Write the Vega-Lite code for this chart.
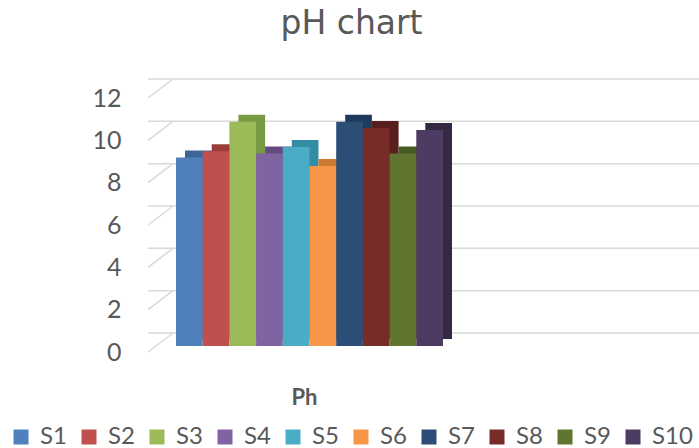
{
  "$schema": "https://vega.github.io/schema/vega-lite/v6.json",
  "autosize": {"type": "none"},
  "width": 551,
  "height": 254,
  "padding": {"left": 148, "top": 92, "right": 0, "bottom": 102},
  "background": "white",
  "title": {
    "text": "pH chart",
    "font": "DejaVu Sans",
    "fontSize": 33,
    "fontWeight": "normal",
    "color": "#595959",
    "anchor": "middle",
    "frame": "group",
    "dx": -72,
    "offset": 37
  },
  "config": {
    "view": {"stroke": null},
    "font": "Lato"
  },
  "datasets": {
    "ph": [
      {"sample": "S1", "pH": 8.9},
      {"sample": "S2", "pH": 9.2},
      {"sample": "S3", "pH": 10.6},
      {"sample": "S4", "pH": 9.1},
      {"sample": "S5", "pH": 9.4},
      {"sample": "S6", "pH": 8.5},
      {"sample": "S7", "pH": 10.6},
      {"sample": "S8", "pH": 10.3},
      {"sample": "S9", "pH": 9.1},
      {"sample": "S10", "pH": 10.2}
    ],
    "ticks": [
      {"level": 0}, {"level": 2}, {"level": 4}, {"level": 6},
      {"level": 8}, {"level": 10}, {"level": 12}
    ]
  },
  "layer": [
    {
      "data": {"name": "ticks"},
      "mark": {"type": "rule", "color": "#d9d9d9", "strokeWidth": 1.5, "xOffset": 25, "yOffset": -13, "y2Offset": -13},
      "encoding": {
        "y": {"field": "level", "type": "quantitative", "scale": {"domain": [0, 12]},
              "axis": {"title": null, "values": [0, 2, 4, 6, 8, 10, 12], "grid": false, "domain": false, "ticks": false,
                       "labelFont": "Lato", "labelFontSize": 25, "labelColor": "#595959", "labelPadding": 27, "labelOffset": 6}}
      }
    },
    {
      "data": {"name": "ticks"},
      "mark": {"type": "rule", "color": "#d9d9d9", "strokeWidth": 1.5, "yOffset": 6, "y2Offset": -13},
      "encoding": {
        "x": {"value": 0},
        "x2": {"value": 25},
        "y": {"field": "level", "type": "quantitative"},
        "y2": {"field": "level"}
      }
    },
    {
      "data": {"name": "ph"},
      "mark": {"type": "bar", "yOffset": -7, "y2Offset": -7},
      "encoding": {
        "x": {"field": "sample", "type": "nominal", "sort": null,
              "scale": {"range": [37, 304], "paddingInner": 0, "paddingOuter": 0}, "axis": null},
        "y": {"field": "pH", "type": "quantitative"},
        "color": {
          "field": "sample", "type": "nominal", "sort": null, "legend": null,
          "scale": {
            "domain": ["S1", "S2", "S3", "S4", "S5", "S6", "S7", "S8", "S9", "S10"],
            "range": ["#3c6697", "#9c3d3a", "#789a43", "#644c82", "#338ea5", "#cf7a33", "#1f3a5c", "#581f1e", "#475a24", "#342843"]
          }
        }
      }
    },
    {
      "data": {"name": "ph"},
      "mark": {"type": "bar"},
      "encoding": {
        "x": {"field": "sample", "type": "nominal", "sort": null,
              "scale": {"range": [28, 295], "paddingInner": 0, "paddingOuter": 0},
              "axis": {"title": "Ph", "labels": false, "domain": false, "ticks": false, "titleX": 156,
                       "titleFont": "Lato", "titleFontSize": 22, "titleFontWeight": "bold", "titleColor": "#595959", "titlePadding": 41}},
        "y": {"field": "pH", "type": "quantitative"},
        "color": {
          "field": "sample", "type": "nominal", "sort": null,
          "scale": {
            "domain": ["S1", "S2", "S3", "S4", "S5", "S6", "S7", "S8", "S9", "S10"],
            "range": ["#4f81bd", "#c0504d", "#9bbb59", "#8064a2", "#4bacc6", "#f79646", "#2c4d75", "#772c2a", "#5f7530", "#4d3b62"]
          },
          "legend": {
            "title": null, "orient": "none", "direction": "horizontal", "columns": 10,
            "legendX": -139, "legendY": 333, "padding": 0,
            "symbolType": "square", "symbolSize": 225, "symbolStrokeWidth": 0,
            "labelFont": "Lato", "labelFontSize": 24, "labelColor": "#595959", "labelOffset": 7,
            "columnPadding": 10
          }
        }
      }
    }
  ],
  "resolve": {"scale": {"color": "independent", "x": "independent"}}
}
